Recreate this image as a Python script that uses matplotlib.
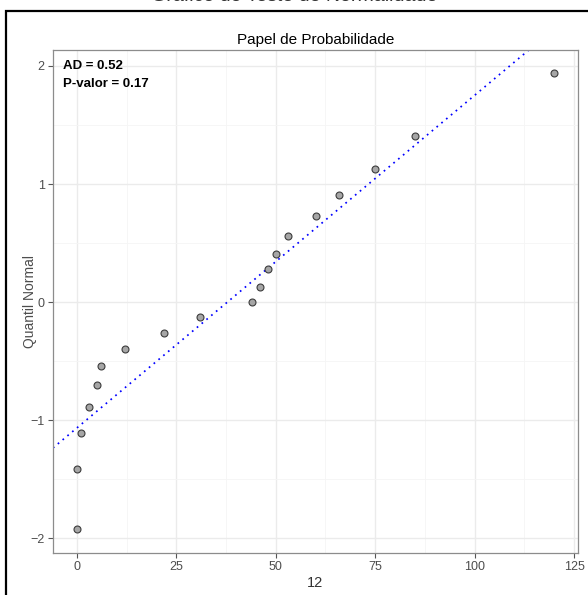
import numpy as np
import matplotlib
matplotlib.use("Agg")
import matplotlib.pyplot as plt
from matplotlib.patches import Rectangle
from matplotlib.ticker import MultipleLocator

plt.rcParams['font.family'] = ['Liberation Sans', 'DejaVu Sans']

# Data
amostra = [0, 0, 1, 3, 5, 6, 12, 22, 31, 44, 46, 48, 50, 53, 60, 66, 75, 85, 120]
quantil = [-1.92, -1.41, -1.11, -0.89, -0.70, -0.54, -0.40, -0.26, -0.13, 0.0,
           0.13, 0.28, 0.41, 0.56, 0.73, 0.91, 1.13, 1.41, 1.94]
reta_intercepto = -1.066
reta_inclinacao = 0.02817
ad_txt = "AD = 0.52"
pval_txt = "P-valor = 0.17"

fig = plt.figure(figsize=(5.88, 5.95), dpi=100)
ax = fig.add_axes([53 / 588, 1 - 553 / 595, 525 / 588, 503 / 595])

# outer black frame (runs off the right/bottom edge)
fig.patches.append(Rectangle((6 / 588, 0 - 0.05), 1.2, 1 - 11 / 595 + 0.05,
                             transform=fig.transFigure, fill=False,
                             edgecolor='black', linewidth=1.6))
# main title, mostly cut off by the top edge as in the original
fig.text(0.5, 1 - 1 / 595, "Gráfico do Teste de Normalidade", ha='center',
         va='baseline', fontsize=14, color='#333333')

xlim = (-6, 126)
ax.set_xlim(xlim)
ax.set_ylim(-2.125, 2.135)

xs = np.array(xlim)
ax.plot(xs, reta_intercepto + reta_inclinacao * xs, color='#0000ff',
        linestyle=(0, (1, 2.6)), linewidth=1.25, zorder=2)
ax.plot(amostra, quantil, 'o', markersize=5, markerfacecolor='#a6a6a6',
        markeredgecolor='#3c3c3c', markeredgewidth=0.8, zorder=3)

ax.xaxis.set_major_locator(MultipleLocator(25))
ax.xaxis.set_minor_locator(MultipleLocator(12.5))
ax.yaxis.set_major_locator(MultipleLocator(1))
ax.yaxis.set_minor_locator(MultipleLocator(0.5))
ax.grid(which='major', color='#ebebeb', linewidth=1.0)
ax.grid(which='minor', color='#f5f5f5', linewidth=0.6)
ax.set_axisbelow(True)

for s in ax.spines.values():
    s.set_color('#8c8c8c')
    s.set_linewidth(0.9)
ax.tick_params(which='major', direction='out', length=3.5, width=0.8,
               color='#555555', labelcolor='#4d4d4d', labelsize=9, pad=2.5)
ax.tick_params(which='minor', length=0)

ax.set_title("Papel de Probabilidade", fontsize=11, pad=4)
ax.set_xlabel("12", fontsize=10.5, color='#333333', labelpad=2)
ax.set_ylabel("Quantil Normal", fontsize=10, color='#4d4d4d', labelpad=-5)

ax.text(0.019, 0.981, ad_txt, transform=ax.transAxes, fontsize=9.5,
        fontweight='bold', va='top', ha='left')
ax.text(0.019, 0.945, pval_txt, transform=ax.transAxes, fontsize=9.5,
        fontweight='bold', va='top', ha='left')

fig.savefig("out.png", dpi=100)
